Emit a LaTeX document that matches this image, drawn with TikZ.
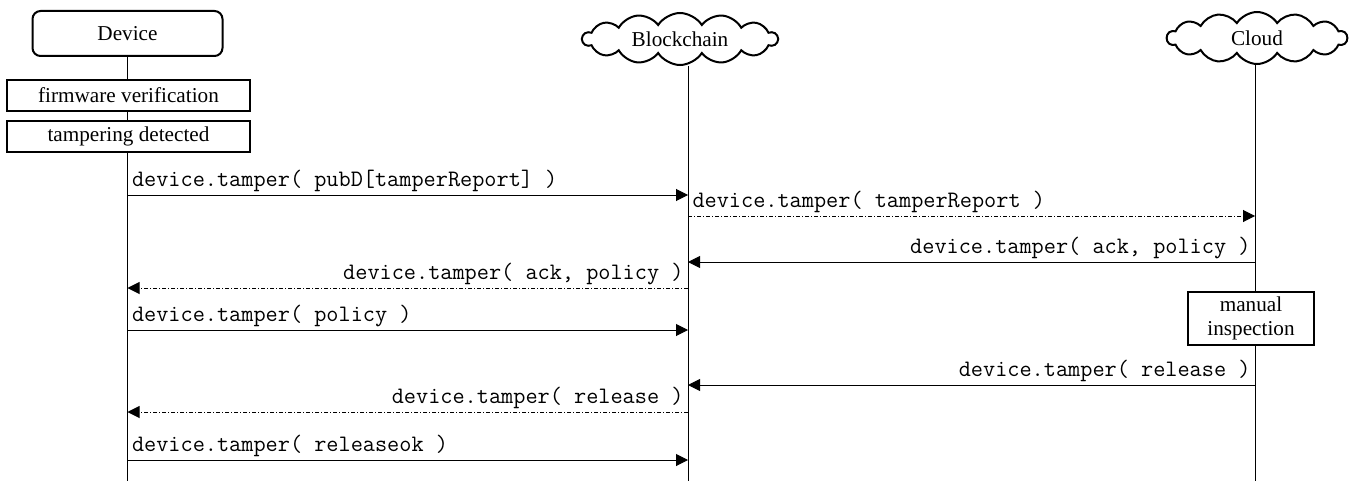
\documentclass[tikz,border=0pt]{standalone}
\usepackage{fontspec}
\setmainfont{Liberation Serif}
\usetikzlibrary{arrows.meta,shapes.symbols}

\begin{document}
\begin{tikzpicture}[
  x=0.5pt,y=-0.5pt,
  >={Triangle[length=6pt,width=6pt]},
  %% participants
  headbox/.style={draw,line width=1pt,rounded corners=4pt,minimum width=95pt,
                  minimum height=22.5pt,font=\fontsize{10.6}{12.7}\selectfont},
  cloudhead/.style={draw,line width=1pt,cloud,cloud puffs=14,cloud puff arc=115,
                    aspect=4,inner sep=0pt,minimum height=26pt,
                    font=\fontsize{10.6}{12.7}\selectfont},
  %% activity boxes on a lifeline
  actbox/.style={draw,line width=1pt,fill=white,inner sep=0pt,align=center,
                 font=\fontsize{10.6}{12}\selectfont},
  lifeline/.style={line width=0.5pt},
  %% messages
  callarrow/.style={->,line width=0.5pt},
  replyarrow/.style={->,line width=0.5pt,dash pattern=on 2pt off 1pt on 0.5pt off 1pt},
  msgl/.style={anchor=south west,inner xsep=2pt,inner ysep=1.5pt,
               font=\ttfamily\fontsize{11.8}{13}\selectfont},
  msgr/.style={msgl,anchor=south east}
]
\useasboundingbox (0,0) rectangle (1353,481);

%% ---- PARTICIPANTS ----
\node[headbox]   (device) at (127.5,33.5) {Device};
\node[cloudhead,minimum width=97.5pt] (chain) at (680,39) {Blockchain};
\node[cloudhead,minimum width=90pt]   (cloud) at (1257,38) {Cloud};

%% ---- LIFELINES ----
\coordinate (devline)   at (device.south);
\coordinate (chainline) at ([xshift=4pt]chain.south);
\coordinate (cloudline) at ([xshift=-1pt]cloud.south);
\coordinate (bottom) at (0,481);
\draw[lifeline] (devline)   -- (devline |- bottom);
\draw[lifeline] (chainline) -- (chainline |- bottom);
\draw[lifeline] (cloudline) -- (cloudline |- bottom);

%% ---- ACTIVITIES ----
\node[actbox,minimum width=121.5pt,minimum height=15.5pt] (verify) at (128.5,95.5)
  {firmware verification};
\node[actbox,minimum width=121.5pt,minimum height=15.5pt] (detect) at (128.5,136.5)
  {tampering detected};
\node[actbox,minimum width=63pt,minimum height=26.5pt] (inspect) at (1251,318.5)
  {manual\\inspection};

%% ---- MESSAGE ROWS ----
\foreach \n/\y in {1/195,2/216,3/262,4/288,5/330,6/385,7/412,8/460}
  \coordinate (m\n) at (0,\y);

\draw[callarrow]  (devline |- m1)   node[msgl] {device.tamper( pubD[tamperReport] )} -- (chainline |- m1);
\draw[replyarrow] (chainline |- m2) node[msgl] {device.tamper( tamperReport )} -- (cloudline |- m2);
\draw[callarrow]  (cloudline |- m3) node[msgr] {device.tamper( ack, policy )} -- (chainline |- m3);
\draw[replyarrow] (chainline |- m4) node[msgr] {device.tamper( ack, policy )} -- (devline |- m4);
\draw[callarrow]  (devline |- m5)   node[msgl] {device.tamper( policy )} -- (chainline |- m5);
\draw[callarrow]  (cloudline |- m6) node[msgr] {device.tamper( release )} -- (chainline |- m6);
\draw[replyarrow] (chainline |- m7) node[msgr] {device.tamper( release )} -- (devline |- m7);
\draw[callarrow]  (devline |- m8)   node[msgl] {device.tamper( releaseok )} -- (chainline |- m8);

\end{tikzpicture}
\end{document}
